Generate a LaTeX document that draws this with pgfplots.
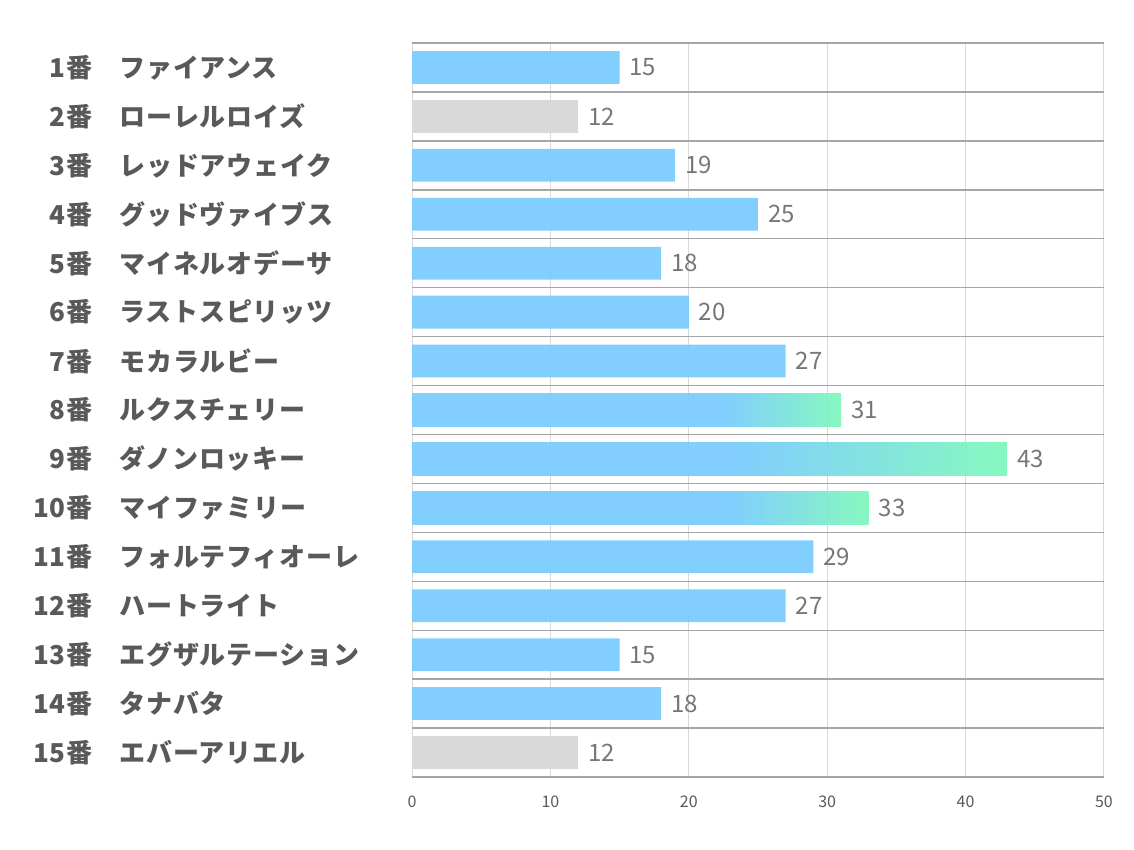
\documentclass[border=0pt]{standalone}
\usepackage{pgfplots}
\pgfplotsset{compat=1.18}
\usepackage{fontspec}
\setmainfont{Noto Sans CJK JP}
\newfontfamily\labfont{Noto Sans CJK JP}[LetterSpace=3]
\definecolor{barblue}{HTML}{7ACBFF}
\definecolor{bargreen}{HTML}{80F8BC}
\definecolor{bargray}{HTML}{D9D9D9}
\definecolor{labgray}{HTML}{595959}
\definecolor{valgray}{HTML}{767676}
\definecolor{hgrid}{HTML}{A6A6A6}
\definecolor{vgrid}{HTML}{D9D9D9}
\pgfdeclarehorizontalshading{g8}{100bp}{color(0bp)=(barblue); color(61bp)=(barblue); color(75bp)=(bargreen); color(100bp)=(bargreen)}
\pgfdeclarehorizontalshading{g9}{100bp}{color(0bp)=(barblue); color(52bp)=(barblue); color(75bp)=(bargreen); color(100bp)=(bargreen)}
\pgfdeclarehorizontalshading{g10}{100bp}{color(0bp)=(barblue); color(59.5bp)=(barblue); color(75bp)=(bargreen); color(100bp)=(bargreen)}
\newcommand{\lab}[2]{\makebox[30pt][r]{#1番}\hspace{13.5pt}\makebox[146pt][l]{#2}}
\begin{document}
\begin{tikzpicture}
\useasboundingbox (0,0) rectangle (567pt,425pt);
\begin{axis}[
 scale only axis, width=346pt, height=367pt,
 at={(206pt,36.5pt)}, anchor=south west,
 xmin=0, xmax=50, ymin=0.5, ymax=15.5, y dir=reverse,
 xtick={0,10,...,50}, ytick={1,...,15},
 yticklabels={\lab{1}{ファイアンス},\lab{2}{ローレルロイズ},\lab{3}{レッドアウェイク},\lab{4}{グッドヴァイブス},\lab{5}{マイネルオデーサ},\lab{6}{ラストスピリッツ},\lab{7}{モカラルビー},\lab{8}{ルクスチェリー},\lab{9}{ダノンロッキー},\lab{10}{マイファミリー},\lab{11}{フォルテフィオーレ},\lab{12}{ハートライト},\lab{13}{エグザルテーション},\lab{14}{タナバタ},\lab{15}{エバーアリエル}},
 minor ytick={0.5,1.5,...,15.5},
 xmajorgrids, yminorgrids,
 major grid style={vgrid, line width=0.5pt},
 minor grid style={hgrid, line width=0.7pt},
 axis line style={draw=none}, tick style={draw=none},
 /pgf/number format/assume math mode=true,
 xticklabel style={font=\fontsize{8}{8}\selectfont, color=labgray, yshift=-6pt},
 yticklabel style={font=\labfont\fontsize{13}{13}\selectfont\bfseries, color=labgray, anchor=east, inner sep=0pt},
 clip=false,
 every axis plot/.append style={bar width=0.67, bar shift=0pt, draw=none},
]
\addplot[xbar, fill=barblue, fill opacity=0.95] coordinates {(15,1) (19,3) (25,4) (18,5) (20,6) (27,7) (29,11) (27,12) (15,13) (18,14)};
\addplot[xbar, fill=bargray] coordinates {(12,2) (12,15)};
\addplot[xbar, shading=g8, fill opacity=0.95] coordinates {(31,8)};
\addplot[xbar, shading=g9, fill opacity=0.95] coordinates {(43,9)};
\addplot[xbar, shading=g10, fill opacity=0.95] coordinates {(33,10)};
\addplot[draw=none, mark=none, point meta=x, nodes near coords,
 every node near coord/.append style={anchor=west, xshift=1.5pt, font=\fontsize{12}{12}\selectfont, color=valgray}]
 coordinates {(15,1) (12,2) (19,3) (25,4) (18,5) (20,6) (27,7) (31,8) (43,9) (33,10) (29,11) (27,12) (15,13) (18,14) (12,15)};
\end{axis}
\end{tikzpicture}
\end{document}
